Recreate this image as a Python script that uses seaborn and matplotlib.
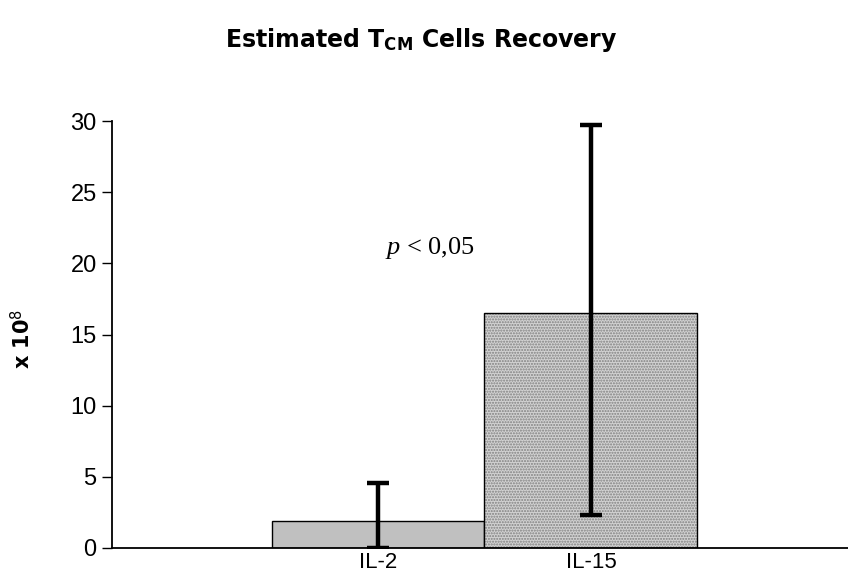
import matplotlib
matplotlib.use("Agg")
import matplotlib.pyplot as plt
import matplotlib.patches as mpatches
import seaborn as sns
import pandas as pd

categories = ["IL-2", "IL-15"]
means = [1.9, 16.5]
err_low = [0.0, 2.3]
err_high = [4.6, 29.7]
yticks = [0, 5, 10, 15, 20, 25, 30]

sns.set_style("white")
plt.rcParams["font.family"] = ["Liberation Sans", "DejaVu Sans"]
plt.rcParams["mathtext.fontset"] = "custom"
plt.rcParams["mathtext.it"] = "Liberation Serif:italic"
plt.rcParams["mathtext.rm"] = "Liberation Serif"
plt.rcParams["mathtext.bf"] = "DejaVu Sans:bold"
for k in ["text.color", "axes.labelcolor", "xtick.color", "ytick.color"]:
    plt.rcParams[k] = "black"

df = pd.DataFrame({"cat": categories, "val": means})

fig = plt.figure(figsize=(8.48, 5.77), dpi=100)
ax = fig.add_axes([112 / 848, 29 / 577, 1 - 112 / 848, (548 - 121) / 577])

sns.barplot(data=df, x="cat", y="val", ax=ax, width=1.0,
            palette=["#c0c0c0", "#d2d2d2"], hue="cat", legend=False,
            edgecolor="black", linewidth=1.0, saturation=1)

p = ax.patches[1]
p.set_hatch("......")
p.set_edgecolor("#808080")
p.set_linewidth(0)
outline = mpatches.Rectangle((p.get_x(), p.get_y()), p.get_width(), p.get_height(),
                             fill=False, edgecolor="black", linewidth=1.0, zorder=p.get_zorder() + 0.1)
ax.add_patch(outline)

xs = list(range(len(categories)))
lower = [m - l for m, l in zip(means, err_low)]
upper = [h - m for m, h in zip(means, err_high)]
ax.errorbar(xs, means, yerr=[lower, upper], fmt="none", ecolor="black",
            elinewidth=3.2, capsize=8, capthick=3.2, zorder=5)

ax.set_xlim(-1.249, 2.207)
ax.set_ylim(0, 30)
ax.set_yticks(yticks)
ax.set_yticklabels([str(t) for t in yticks], fontsize=17)
ax.tick_params(axis="y", which="both", left=True, length=7, width=1.0, pad=4, color="black")
ax.tick_params(axis="x", length=0, labelsize=16, pad=3)

for s in ["top", "right"]:
    ax.spines[s].set_visible(False)
for s in ["left", "bottom"]:
    ax.spines[s].set_color("black")
    ax.spines[s].set_linewidth(1.3)

ax.set_xlabel("")
ax.set_ylabel(r"x 10$^{\mathsf{8}}$", fontsize=15, fontweight="bold",
              family=["DejaVu Sans"])
ax.yaxis.set_label_coords(-0.107, 0.49)

ax.text(0.245, 21.1, r"$\mathit{p}$ < 0,05", fontsize=19, family="Liberation Serif",
        ha="center", va="center")

fig.text(0.497, 0.93, r"Estimated T$_{\mathbf{CM}}$ Cells Recovery", fontsize=17,
         fontweight="bold", ha="center", va="center", family=["DejaVu Sans"])

fig.savefig("out.png", dpi=100)
